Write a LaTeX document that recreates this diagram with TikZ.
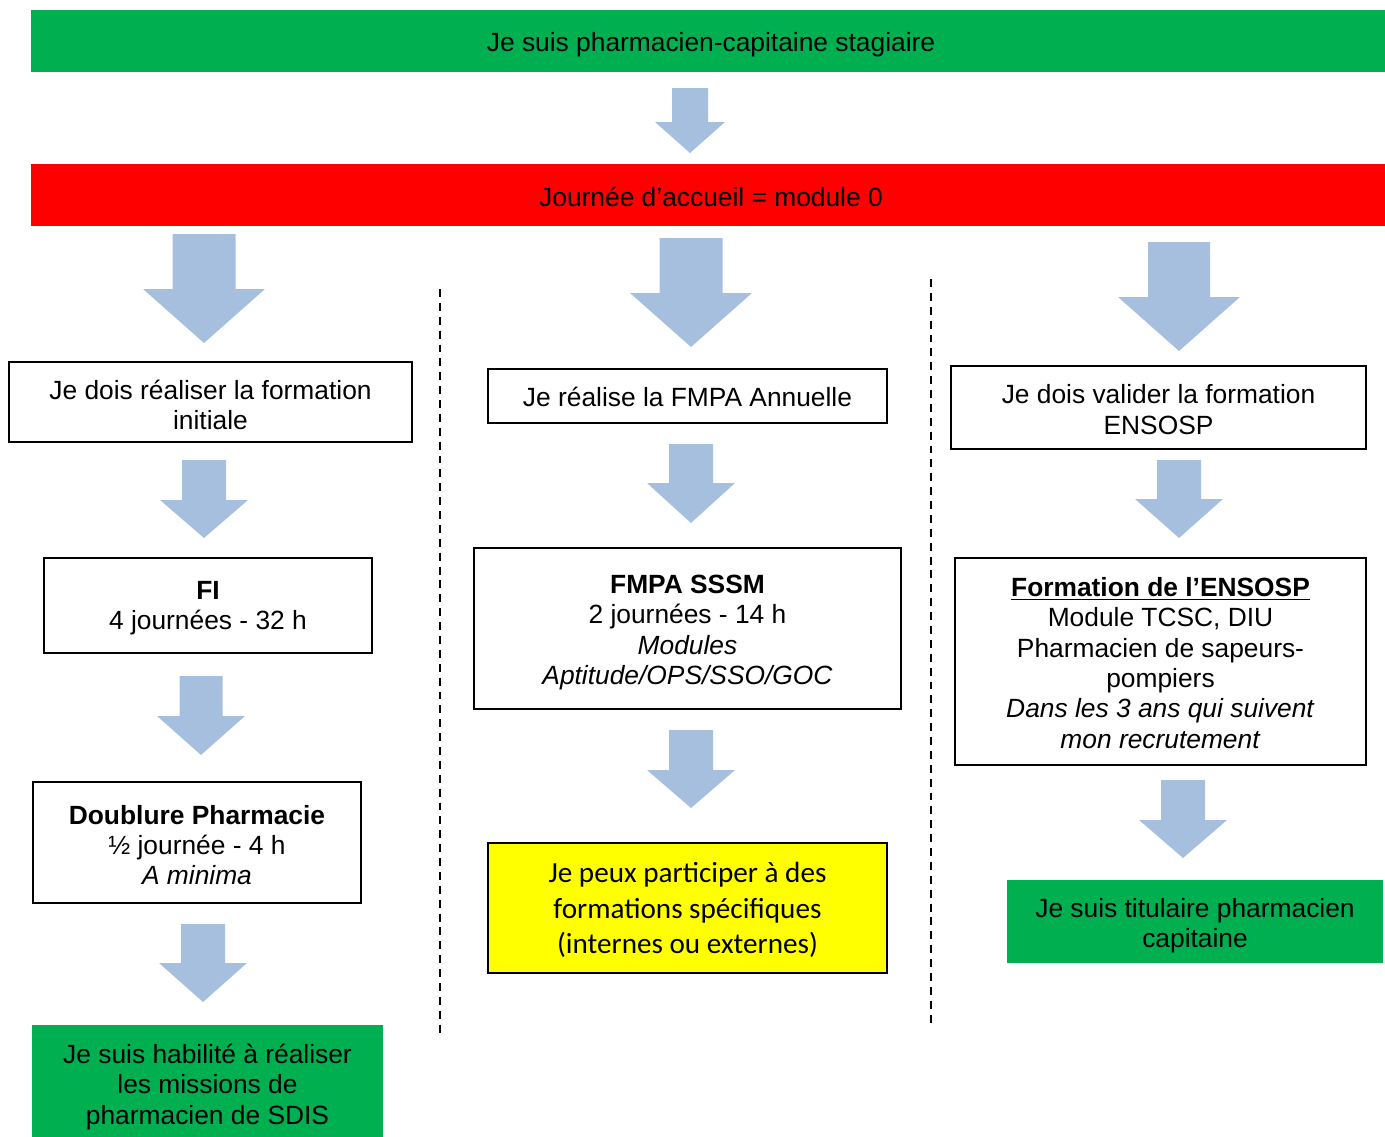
\documentclass[tikz,border=0pt]{standalone}
\usepackage{fontspec}
\setmainfont{Liberation Sans}
\newfontfamily\calib{Carlito}
\definecolor{okgreen}{RGB}{0,176,80}
\definecolor{alertred}{RGB}{255,0,0}
\definecolor{hiyellow}{RGB}{255,255,0}
\definecolor{arrowblue}{RGB}{167,191,222}
% block arrow pointing down: cx, top, shaft half width, head half width, head start, tip
\newcommand\downblock[6]{%
  \fill[arrowblue] (#1-#3,#2) -- (#1+#3,#2) -- (#1+#3,#5) -- (#1+#4,#5)
    -- (#1,#6) -- (#1-#4,#5) -- (#1-#3,#5) -- cycle;}
\begin{document}
\begin{tikzpicture}[x=0.02cm,y=-0.02cm,
  txt/.style={font=\fontsize{15}{17.3}\selectfont, align=center, inner sep=0pt},
  framed/.style={draw=black, line width=1.2pt, fill=white, inner sep=0pt},
  banner/.style={draw=none, inner sep=0pt},
  inside/.style={label={[txt, yshift=-1.5pt]center:{#1}}},
  sep/.style={line width=0.85pt, dash pattern=on 4.5pt off 3.4pt}]
\useasboundingbox (0,0) rectangle (1385,1136);

% header banners
\node[banner, fill=okgreen, minimum width=1354*0.02cm, minimum height=62*0.02cm] (start) at (708,41) {};
\node[txt] (startt) at (711,44.5) {Je suis pharmacien-capitaine stagiaire};
\node[banner, fill=alertred, minimum width=1354*0.02cm, minimum height=62*0.02cm] (accueil) at (708,195) {};
\node[txt] (accueilt) at (711,196.5) {Journée d’accueil = module 0};

% column separators
\coordinate (s1a) at (440,289); \coordinate (s1b) at (440,1037);
\coordinate (s2a) at (931,279); \coordinate (s2b) at (931,1027);
\draw[sep] (s1a) -- (s1b);
\draw[sep] (s2a) -- (s2b);

% block arrows
\downblock{690}{88}{18}{35}{122}{153}
\downblock{204}{234}{31.5}{61}{289}{343}
\downblock{691}{238}{31.5}{61}{293}{347}
\downblock{1179}{242}{31}{61}{297}{351}
\downblock{204}{460}{22}{44}{500}{538}
\downblock{691}{444}{22}{44}{483}{523}
\downblock{1179}{460}{22}{44}{499}{538}
\downblock{201}{676}{21.5}{44}{716}{755}
\downblock{691}{730}{22}{44}{770}{808}
\downblock{1183}{780}{22}{44}{820}{858}
\downblock{203}{924}{22}{44}{963}{1002}

% left column
\node[framed, minimum width=403*0.02cm, minimum height=80*0.02cm,
  inside={Je dois réaliser la formation\\initiale}] (fi0) at (210.5,402) {};
\node[framed, minimum width=328*0.02cm, minimum height=95*0.02cm,
  inside={\textbf{FI}\\4 journées - 32 h}] (fi) at (208,605.5) {};
\node[framed, minimum width=328*0.02cm, minimum height=121*0.02cm,
  inside={\textbf{Doublure Pharmacie}\\½ journée - 4 h\\\textit{A minima}}] (doub) at (197,842.5) {};
\node[banner, fill=okgreen, minimum width=351*0.02cm, minimum height=118*0.02cm,
  inside={Je suis habilité à réaliser\\les missions de\\pharmacien de SDIS}] (habil) at (207.5,1084) {};

% middle column
\node[framed, minimum width=399*0.02cm, minimum height=54*0.02cm,
  label={[txt, yshift=-0.6pt]center:{Je réalise la FMPA Annuelle}}] (fmpa) at (687.5,396) {};
\node[framed, minimum width=427*0.02cm, minimum height=161*0.02cm,
  label={[txt, yshift=-2.2pt]center:{\textbf{FMPA SSSM}\\2 journées - 14 h\\\textit{Modules}\\\textit{Aptitude/OPS/SSO/GOC}}}] (sssm) at (687.5,628.5) {};
\node[draw=black, line width=0.6pt, fill=hiyellow, inner sep=0pt,
  minimum width=399*0.02cm, minimum height=130*0.02cm,
  label={[txt, yshift=-1.1pt, font=\calib\fontsize{16.6}{20.4}\selectfont]center:{Je peux participer à des\\formations spécifiques\\(internes ou externes)}}] (spec) at (687.5,908) {};

% right column
\node[framed, minimum width=415*0.02cm, minimum height=83*0.02cm,
  label={[txt, yshift=-1.1pt]center:{Je dois valider la formation\\ENSOSP}}] (ens0) at (1158.5,407.5) {};
\node[framed, minimum width=411*0.02cm, minimum height=207*0.02cm,
  label={[txt, yshift=-0.8pt]center:{\underline{\textbf{Formation de l’ENSOSP}}\\Module TCSC, DIU\\Pharmacien de sapeurs-\\pompiers\\\textit{Dans les 3 ans qui suivent}\\\textit{mon recrutement}}}] (ens) at (1160.5,661.5) {};
\node[banner, fill=okgreen, minimum width=376*0.02cm, minimum height=83*0.02cm,
  label={[txt, yshift=-2.3pt]center:{Je suis titulaire pharmacien\\capitaine}}] (titul) at (1195,921.5) {};
\end{tikzpicture}
\end{document}
